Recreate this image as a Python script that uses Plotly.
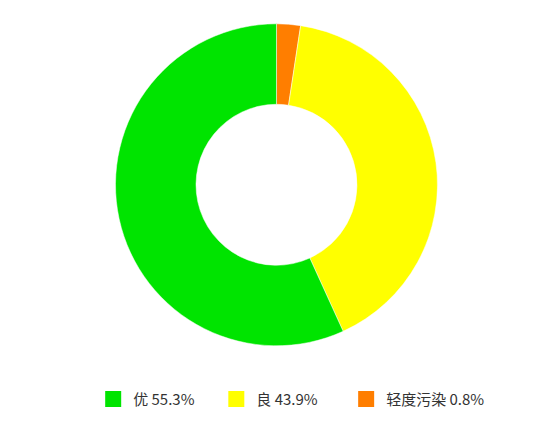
import plotly.graph_objects as go

labels = ['优 55.3%', '良 43.9%', '轻度污染 0.8%']
values = [56.8, 40.8, 2.4]
colors = ['#00e400', '#ffff00', '#ff7e00']
pads = [5, 7, 0]

fig = go.Figure()
# slices run clockwise from 12 o'clock: 轻度污染, 良, 优
fig.add_trace(go.Pie(labels=labels[::-1], values=values[::-1],
                     hole=0.5, sort=False, direction='clockwise', rotation=0,
                     marker=dict(colors=colors[::-1], line=dict(color='white', width=0.5)),
                     textinfo='none', hoverinfo='label', showlegend=False,
                     domain=dict(x=[0, 0.971], y=[0.209, 0.963])))

# legend entries with larger square swatches
for name, c, p in zip(labels, colors, pads):
    fig.add_trace(go.Scatter(x=[None], y=[None], mode='markers', name=name + '\u00a0' * p,
                             marker=dict(symbol='square', size=18, color=c)))

fig.update_layout(width=553, height=427,
                  margin=dict(l=0, r=0, t=0, b=0),
                  paper_bgcolor='white', plot_bgcolor='white',
                  xaxis=dict(visible=False), yaxis=dict(visible=False),
                  font=dict(family='Noto Sans CJK SC', size=15, color='#333'),
                  legend=dict(orientation='h', x=0.513, xanchor='center',
                              y=0.084, yanchor='middle'))
fig.write_html('out.html')
